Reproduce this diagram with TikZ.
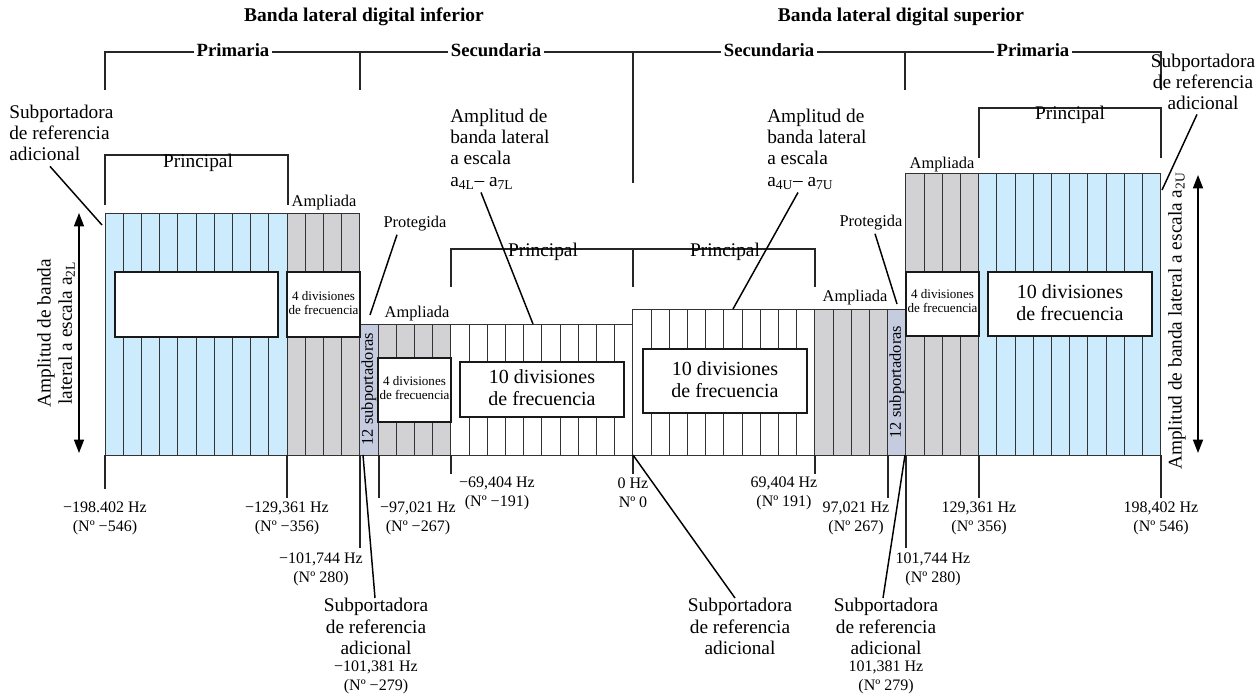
\documentclass[tikz,border=0pt]{standalone}
\usepackage{fontspec}
\setmainfont{Liberation Serif}
\usetikzlibrary{arrows.meta, positioning, calc}

\definecolor{primblue}{RGB}{204,235,252}
\definecolor{ampgray}{RGB}{210,210,212}
\definecolor{protgray}{RGB}{198,204,224}

\newcommand\bandfont{\fontsize{14.5}{16}\selectfont}
\newcommand\headfont{\fontsize{14}{16}\selectfont\bfseries}
\newcommand\titlefont{\fontsize{14.6}{16}\selectfont\bfseries}
\newcommand\freqfont{\fontsize{12}{14.25}\selectfont}
\newcommand\subfont{\fontsize{12.3}{14}\selectfont}
\newcommand\divsmall{\fontsize{9.8}{10.5}\selectfont}
\newcommand\divbig{\fontsize{15}{16.5}\selectfont}

\begin{document}
\begin{tikzpicture}[x=0.75pt, y=-0.75pt,
  cell/.style={draw=black!80, line width=0.6pt},
  bracket/.style={draw=black!85, line width=1.3pt},
  leader/.style={draw=black, line width=1.1pt},
  tick/.style={draw=black!85, line width=0.9pt},
  divbox/.style={draw=black!90, line width=1.3pt, fill=white},
  lbl/.style={font=\bandfont, inner sep=0pt, align=center},
  head/.style={font=\headfont, inner sep=2pt, fill=white},
  freq/.style={font=\freqfont, inner sep=0pt, align=center},
  small/.style={font=\subfont, inner sep=0pt},
  ampl/.style={{Triangle[width=7.5pt,length=10pt]}-{Triangle[width=7.5pt,length=10pt]}, line width=1.1pt}
]
  \useasboundingbox (0,0) rectangle (1256,695);
  \clip (0,0) rectangle (1256,695);

  % Band fills
  \fill[primblue] (105,213) rectangle (287,455);
  \fill[ampgray] (287,213) rectangle (360,455);
  \fill[protgray] (360,324) rectangle (378,455);
  \fill[ampgray] (378,324) rectangle (451,455);
  \fill[ampgray] (815,309) rectangle (888,455);
  \fill[protgray] (888,309) rectangle (906,455);
  \fill[ampgray] (906,173) rectangle (979,455);
  \fill[primblue] (979,173) rectangle (1161,455);

  % Subcarrier columns
  \foreach \a/\b/\t in {0/14/213, 14/29/324, 29/44/309, 44/58/173} {
    \foreach \k in {\a,...,\b}
      \draw[cell] ({105+18.2*\k},\t) -- ({105+18.2*\k},455);
    \draw[cell] ({105+18.2*\a},\t) -- ({105+18.2*\b},\t);
  }
  \draw[cell] (105,455) -- (1161,455);

  % Frequency partitions
  \draw[divbox] (115,272) rectangle (278,337);
  \draw[divbox] (287,272) rectangle (360,337);
  \draw[divbox] (378,358) rectangle (451,422);
  \draw[divbox] (460,362) rectangle (624,417);
  \draw[divbox] (643,349) rectangle (807,413);
  \draw[divbox] (906,272) rectangle (979,336);
  \draw[divbox] (988,272) rectangle (1152,336);
  \node (divPL) [font=\divsmall, align=center, inner sep=0pt] at (323.5,303) {4 divisiones\\de frecuencia};
  \node (divSL) [font=\divsmall, align=center, inner sep=0pt] at (414.5,388) {4 divisiones\\de frecuencia};
  \node (divSR) [font=\divsmall, align=center, inner sep=0pt] at (942.5,301) {4 divisiones\\de frecuencia};
  \node (tenSL) [font=\divbig, align=center, inner sep=0pt] at (542,388) {10 divisiones\\de frecuencia};
  \node (tenSR) [font=\divbig, align=center, inner sep=0pt] at (725,380) {10 divisiones\\de frecuencia};
  \node (tenPR) [font=\divbig, align=center, inner sep=0pt] at (1070,303) {10 divisiones\\de frecuencia};
  \node (protL) [small, rotate=90] at (369,389) {12 subportadoras};
  \node (protR) [small, rotate=90] at (897,382) {12 subportadoras};

  % Brackets
  \draw[bracket] (105,90) -- (105,52) -- (1161,52) -- (1161,90);
  \draw[bracket] (360,52) -- (360,90);
  \draw[bracket] (905,52) -- (905,90);
  \draw[bracket] (633,52) -- (633,183);
  \draw[bracket] (105,205) -- (105,155) -- (288,155) -- (288,205);
  \draw[bracket] (979,158) -- (979,108) -- (1161,108) -- (1161,158);
  \draw[bracket] (451,287) -- (451,249) -- (815,249) -- (815,287);
  \draw[bracket] (633,249) -- (633,287);

  \node (titleL) [font=\titlefont, inner sep=0pt] at (364,17) {Banda lateral digital inferior};
  \node (titleR) [font=\titlefont, inner sep=0pt] at (901,17) {Banda lateral digital superior};
  \node (primL) [head] at (233,50) {Primaria};
  \node (secL) [head] at (496,50) {Secundaria};
  \node (secR) [head] at (769,50) {Secundaria};
  \node (primR) [head] at (1033,50) {Primaria};
  \node (princL) [lbl] at (198,163) {Principal};
  \node (princR) [lbl] at (1070,115) {Principal};
  \node (princSL) [lbl] at (543,252) {Principal};
  \node (princSR) [lbl] at (725,252) {Principal};

  \node (ampPL) [small] at (324,203) {Ampliada};
  \node (ampSL) [small] at (417,314) {Ampliada};
  \node (ampSR) [small] at (855,298) {Ampliada};
  \node (ampPR) [small] at (942,165) {Ampliada};
  \node (protlblL) [small] at (415,224) {Protegida};
  \node (protlblR) [small] at (871,223) {Protegida};

  % Scaled amplitude labels
  \node (scaleL) [lbl, align=left, anchor=west] at (450,149) {Amplitud de\\banda lateral\\a escala\\a\textsubscript{4L}– a\textsubscript{7L}};
  \node (scaleR) [lbl, align=left, anchor=west] at (767,149) {Amplitud de\\banda lateral\\a escala\\a\textsubscript{4U}– a\textsubscript{7U}};
  \node (refTL) [lbl, align=left, anchor=west] at (9,133) {Subportadora\\de referencia\\adicional};
  \node (refTR) [lbl] at (1203,82) {Subportadora\\de referencia\\adicional};
  \node (ampL) [lbl, rotate=90] at (56,333) {Amplitud de banda\\lateral a escala a\textsubscript{2L}};
  \node (ampR) [lbl, rotate=90] at (1177,321) {Amplitud de banda lateral a escala a\textsubscript{2U}};

  \coordinate (edgeTL) at (102,225);
  \coordinate (edgeTR) at (1162,190);
  \coordinate (secTopL) at (533,324);
  \coordinate (secTopR) at (733,309);
  \coordinate (protTopL) at (370,315);
  \coordinate (protTopR) at (897,304);
  \draw[leader] ($(refTL.south west)+(41,5)$) -- (edgeTL);
  \draw[leader] ($(refTR.south)+(-6,4)$) -- (edgeTR);
  \draw[leader] ($(scaleL.south west)+(31,3)$) -- (secTopL);
  \draw[leader] ($(scaleR.south west)+(31,3)$) -- (secTopR);
  \draw[leader] ($(protlblL.south)+(-18,3)$) -- (protTopL);
  \draw[leader] ($(protlblR.south)+(4,3)$) -- (protTopR);

  % Amplitude arrows
  \draw[ampl] (79,213) -- (79,453);
  \draw[ampl] (1198,175) -- (1198,453);

  % Frequency ticks
  \foreach \x/\len in {105/34, 287/43, 360/93, 379/43, 451/19, 633/19, 815/19, 888/43, 906/93, 979/43, 1161/43}
    \draw[tick] (\x,455) -- ++(0,\len);

  \node (fm198) [freq] at (105,518) {−198.402 Hz\\(Nº −546)};
  \node (fm129) [freq] at (287,518) {−129,361 Hz\\(Nº −356)};
  \node (fm101) [freq] at (321,569) {−101,744 Hz\\(Nº 280)};
  \node (fm97) [freq] at (418,518) {−97,021 Hz\\(Nº −267)};
  \node (fm69) [freq] at (497,493) {−69,404 Hz\\(Nº −191)};
  \node (f0) [freq] at (633,493) {0 Hz\\Nº 0};
  \node (fp69) [freq] at (784,493) {69,404 Hz\\(Nº 191)};
  \node (fp97) [freq] at (856,518) {97,021 Hz\\(Nº 267)};
  \node (fp101) [freq] at (933,569) {101,744 Hz\\(Nº 280)};
  \node (fp129) [freq] at (979,518) {129,361 Hz\\(Nº 356)};
  \node (fp198) [freq] at (1161,518) {198,402 Hz\\(Nº 546)};

  % Additional reference subcarriers below the band
  \node (refBL) [lbl, anchor=north] at (376,598) {Subportadora\\de referencia\\adicional\\[-3pt]\freqfont −101,381 Hz\\[-2pt]\freqfont (Nº −279)};
  \node (refBC) [lbl, anchor=north] at (740,598) {Subportadora\\de referencia\\adicional};
  \node (refBR) [lbl, anchor=north] at (886,598) {Subportadora\\de referencia\\adicional\\[-3pt]\freqfont 101,381 Hz\\[-2pt]\freqfont (Nº 279)};
  \coordinate (baseL) at (363,455);
  \coordinate (baseC) at (633,455);
  \coordinate (baseR) at (905,455);
  \draw[leader] (refBL.north) ++(-1,0) -- (baseL);
  \draw[leader] (refBC.north) ++(-5,0) -- (baseC);
  \draw[leader] (refBR.north) ++(-3,0) -- (baseR);

\end{tikzpicture}
\end{document}
